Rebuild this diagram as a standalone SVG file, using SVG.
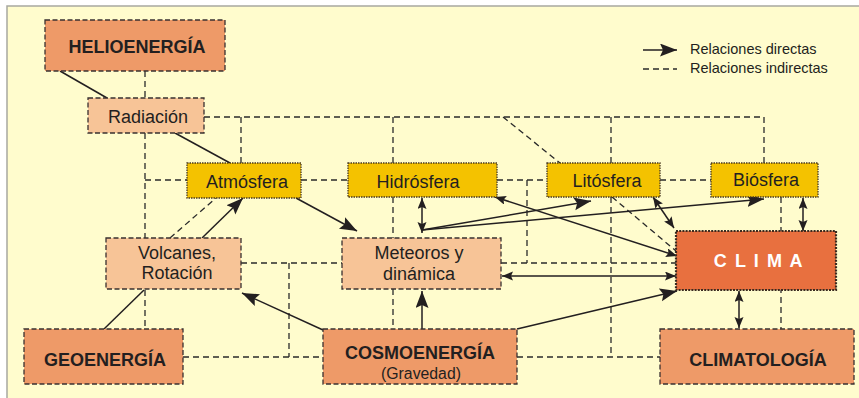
<svg xmlns="http://www.w3.org/2000/svg" width="859" height="398" viewBox="0 0 859 398">
<style>
.bg{fill:#FFFCCD;stroke:#A8A8A0;stroke-width:1.5}
.strong{fill:#EE9A68;stroke:#3a3030;stroke-width:1.3;stroke-dasharray:5 2.5}
.soft{fill:#F7C497;stroke:#3a3030;stroke-width:1.3;stroke-dasharray:5 2.5}
.sphere{fill:#F4C200;stroke:#4a3a20;stroke-width:1.3;stroke-dasharray:1.5 1}
.clima{fill:#E8703F;stroke:#3a2a20;stroke-width:2.2;stroke-dasharray:2 1.2}
.t{font-family:"Liberation Sans",Arial,sans-serif;fill:#231F20;text-anchor:middle}
.b{font-weight:bold;font-size:18px}
.r{font-size:18px}
.leg{font-family:"Liberation Sans",Arial,sans-serif;fill:#231F20;font-size:14.5px}
.dash{fill:none;stroke:#2a2a2a;stroke-width:1.3;stroke-dasharray:6 4}
.solid{fill:none;stroke:#231F20;stroke-width:1.5}
.arr{fill:none;stroke:#231F20;stroke-width:1.5;marker-end:url(#big)}
.dbl{fill:none;stroke:#231F20;stroke-width:1.5;marker-start:url(#small);marker-end:url(#small)}
</style>
<defs>
<marker id="big" markerUnits="userSpaceOnUse" markerWidth="18" markerHeight="14" refX="17" refY="6.5" orient="auto">
<path d="M0,0 L17,6.5 L0,13 L3,6.5 z" fill="#231F20"/>
</marker>
<marker id="small" markerUnits="userSpaceOnUse" markerWidth="12" markerHeight="10" refX="11" refY="4.5" orient="auto-start-reverse">
<path d="M0,0 L11,4.5 L0,9 L2,4.5 z" fill="#231F20"/>
</marker>
</defs>
<rect x="0" y="0" width="859" height="398" fill="#FFFFFF"/>
<rect class="bg" x="7" y="6" width="860" height="400"/>

<g id="legend">
<line class="solid" x1="643" y1="50" x2="677" y2="50" marker-end="url(#big)"/>
<line class="dash" x1="643" y1="69" x2="677" y2="69" stroke-dasharray="5 4"/>
<text class="leg" x="690" y="54">Relaciones directas</text>
<text class="leg" x="690" y="73">Relaciones indirectas</text>
</g>

<g id="connectors">
<!-- dashed indirect relations -->
<path class="dash" d="M145,71 V98"/>
<path class="dash" d="M145,133 V238"/>
<path class="dash" d="M145,180 H187"/>
<path class="dash" d="M145,290 V329"/>
<path class="dash" d="M204,117 H764 V163"/>
<path class="dash" d="M241,117 V163"/>
<path class="dash" d="M393,117 V163"/>
<path class="dash" d="M611,117 V163"/>
<path class="dash" d="M503,117 L560,163"/>
<path class="dash" d="M301,180 H348"/>
<path class="dash" d="M497,180 H547"/>
<path class="dash" d="M527,180 V263"/>
<path class="dash" d="M660,180 H711"/>
<path class="dash" d="M393,197 V238"/>
<path class="dash" d="M393,289 V329"/>
<path class="dash" d="M170,238 L216,198"/>
<path class="dash" d="M241,263 H342"/>
<path class="dash" d="M289,263 V357"/>
<path class="dash" d="M183,357 H323"/>
<path class="dash" d="M501,263 H676"/>
<path class="dash" d="M611,197 V357"/>
<path class="dash" d="M517,357 H660"/>
<path class="dash" d="M612,197 L676,251"/>
<path class="dash" d="M781,197 V329"/>
<!-- solid links -->
<path class="solid" d="M60,71 L107,98"/>
<path class="solid" d="M175,133 L230,163"/>
<path class="solid" d="M104,329 L144,290"/>
<!-- direct relations -->
<path class="arr" d="M202,238 L243,198"/>
<path class="arr" d="M296,198 L357,231"/>
<path class="arr" d="M323,330 L242,293"/>
<path class="arr" d="M422,329 L422,291"/>
<path class="arr" d="M517,329 L677,291"/>
<path class="arr" d="M422,230 L591,201"/>
<path class="arr" d="M422,230 L764,199"/>
<path class="dbl" d="M422,198 L422,233"/>
<path class="dbl" d="M495,197 L677,256"/>
<path class="dbl" d="M653,197 L674,228"/>
<path class="dbl" d="M502,276 L676,276"/>
<path class="dbl" d="M803,198 L803,231"/>
<path class="dbl" d="M739,291 L739,328"/>
</g>

<g id="helioenergia">
<rect class="strong" x="45" y="20" width="180" height="51"/>
<text class="t b" x="137" y="53">HELIOENERGÍA</text>
</g>
<g id="radiacion">
<rect class="soft" x="88" y="98" width="116" height="35"/>
<text class="t r" x="148" y="123">Radiación</text>
</g>
<g id="atmosfera">
<rect class="sphere" x="187" y="163" width="114" height="35"/>
<text class="t r" x="247" y="188">Atmósfera</text>
</g>
<g id="hidrosfera">
<rect class="sphere" x="348" y="163" width="149" height="34"/>
<text class="t r" x="418" y="188">Hidrósfera</text>
</g>
<g id="litosfera">
<rect class="sphere" x="547" y="163" width="113" height="34"/>
<text class="t r" x="607" y="187">Litósfera</text>
</g>
<g id="biosfera">
<rect class="sphere" x="711" y="163" width="107" height="34"/>
<text class="t r" x="766" y="186">Biósfera</text>
</g>
<g id="volcanes">
<rect class="soft" x="106" y="238" width="135" height="51"/>
<text class="t r" x="177" y="259">Volcanes,</text>
<text class="t r" x="177" y="279">Rotación</text>
</g>
<g id="meteoros">
<rect class="soft" x="342" y="238" width="159" height="51"/>
<text class="t r" x="419" y="259">Meteoros y</text>
<text class="t r" x="419" y="280">dinámica</text>
</g>
<g id="clima">
<rect class="clima" x="676" y="231" width="160" height="59"/>
<text class="t b" x="759" y="267" style="fill:#FFFFFF" letter-spacing="1.6">C L I M A</text>
</g>
<g id="geoenergia">
<rect class="strong" x="24" y="329" width="159" height="55"/>
<text class="t b" x="105" y="366">GEOENERGÍA</text>
</g>
<g id="cosmoenergia">
<rect class="strong" x="323" y="329" width="194" height="55"/>
<text class="t b" x="420" y="359">COSMOENERGÍA</text>
<text class="t" x="421" y="379" font-size="15.8">(Gravedad)</text>
</g>
<g id="climatologia">
<rect class="strong" x="660" y="329" width="194" height="55"/>
<text class="t b" x="758" y="366">CLIMATOLOGÍA</text>
</g>
</svg>
